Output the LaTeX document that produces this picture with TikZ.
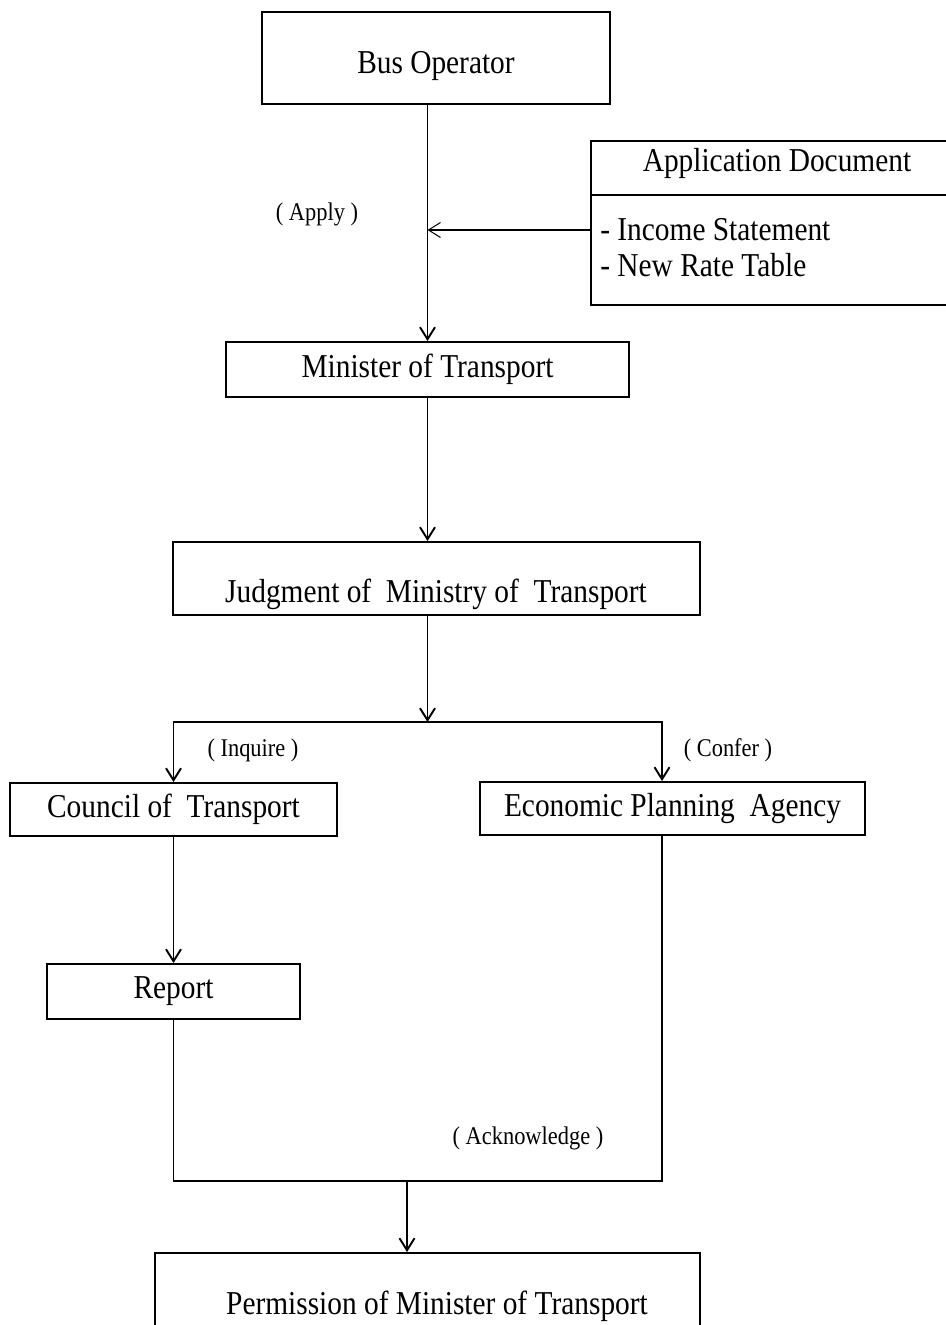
\documentclass[tikz,border=0pt]{standalone}
\usepackage{fontspec}
\setmainfont{Liberation Serif}[FakeStretch=0.88]
\usetikzlibrary{arrows.meta}
\begin{document}
\begin{tikzpicture}[x=0.02cm,y=-0.02cm,
  box/.style={draw, line width=1.1pt, inner sep=0pt},
  txt/.style={font=\fontsize{19}{22}\selectfont, inner sep=0pt},
  lbl/.style={font=\fontsize{14.5}{17}\selectfont, inner sep=0pt},
  conn/.style={line width=1.1pt},
  arr/.style={conn, -{Straight Barb[length=2.4mm,width=3mm]}},
  thinarr/.style={line width=0.6pt, -{Straight Barb[length=2.4mm,width=3mm]}}]
\useasboundingbox (0,0) rectangle (946,1325);

% Bus operator
\node[box, minimum width=6.96cm, minimum height=1.84cm] (bus) at (436,58) {};
\node[txt] (busT) at (436,66) {Bus Operator};

% Application document
\node[box, minimum width=7.18cm, minimum height=3.28cm] (app) at (770.5,223) {};
\draw[conn] ([yshift=-1.1cm]app.north west) -- ([yshift=-1.1cm]app.north east);
\node[txt] (appT) at (777,163) {Application Document};
\node[txt, anchor=west] (inc) at (600,230) {- Income Statement};
\node[txt, anchor=west] (nrt) at (600,265) {- New Rate Table};

% Minister
\node[box, txt, minimum width=8.06cm, minimum height=1.1cm] (min) at (427.5,369.5) {Minister of Transport};
\draw[arr] (bus.south -| min.north) -- (min.north);
\coordinate (j) at (427.5,230);
\draw[thinarr] (app.west |- j) -- (j);
\node[lbl] (apply) at (317,214) {( Apply )};

% Judgment
\node[box, minimum width=10.54cm, minimum height=1.46cm] (judg) at (436.5,578.5) {};
\node[txt] (judgT) at (436,594) {Judgment of\ \ Ministry of\ \ Transport};
\draw[arr] (min.south) -- (min.south |- judg.north);

% split
\coordinate (split) at (427.5,722);
\coordinate (rc) at (662,722);
\draw[arr] (judg.south -| split) -- (split);

% Council and EPA
\node[box, txt, minimum width=6.54cm, minimum height=1.06cm] (cot) at (173.5,809.5) {Council of\ \ Transport};
\node[box, txt, minimum width=7.7cm, minimum height=1.06cm] (epa) at (672.5,808.5) {Economic Planning\ \ Agency};
\draw[arr] (split) -| (cot.north);
\draw[arr] (split) -- (rc) -- (rc |- epa.north);
\node[lbl] (inq) at (253,750) {( Inquire )};
\node[lbl] (conf) at (728,750) {( Confer )};

% Report
\node[box, txt, minimum width=5.06cm, minimum height=1.1cm] (rep) at (173.5,991.5) {Report};
\draw[arr] (cot.south) -- (cot.south |- rep.north);

% merge
\coordinate (lr) at (662,1181);
\coordinate (merge) at (407,1181);
\draw[conn] (rep.south) |- (lr) -- (lr |- epa.south);
\node[lbl] (ack) at (528,1138) {( Acknowledge )};

% Permission
\node[box, minimum width=10.9cm, minimum height=2.14cm] (perm) at (427.5,1306.5) {};
\node[txt] (permT) at (437,1306) {Permission of Minister of Transport};
\draw[arr] (merge) -- (merge |- perm.north);
\end{tikzpicture}
\end{document}
